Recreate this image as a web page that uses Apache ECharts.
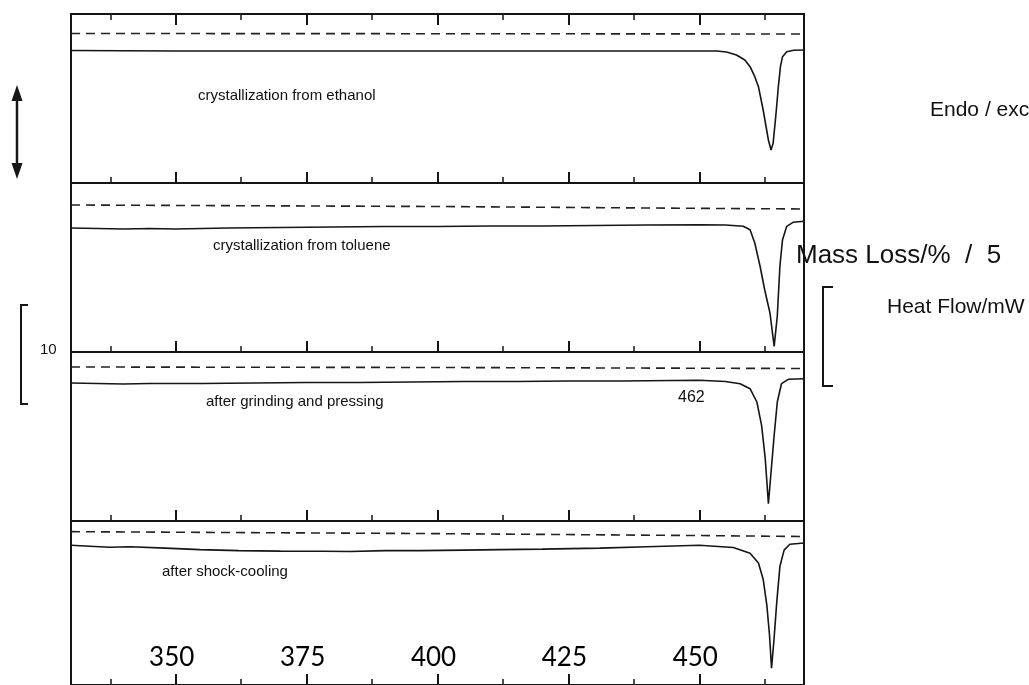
<!DOCTYPE html>
<html>
<head>
	<meta http-equiv="Content-Type" content="text/html;charset=utf-8" />
	<title>DSC / TG</title>
	<script src="https://cdn.jsdelivr.net/npm/echarts@6/dist/echarts.min.js"></script>
	<style>
		body { margin: 0; background: #fff; }
		#grafico { width: 1029px; height: 685px; }
	</style>
</head>
<body>
	<div id="grafico"></div>
	<script>

		// eixo de temperatura
		var tMin = 330, tMax = 470;
		var majorTicks = [350, 375, 400, 425, 450];
		var minorTicks = [337.5, 362.5, 387.5, 412.5, 437.5, 462.5];

		var amostras = ['crystallization from ethanol', 'crystallization from toluene', 'after grinding and pressing', 'after shock-cooling'];

		// DSC (heat flow, mW, relativo ao topo de cada painel)
		var dscEthanol = [
			[330, -3.65], [350, -3.7], [400, -3.7], [440, -3.7], [453.3, -3.7], [455.2, -3.8], [457.1, -4.1],
			[458.7, -4.6], [459.7, -5.27], [460.6, -6.27], [461.3, -7.27], [462.2, -9.6], [463.2, -12.6],
			[463.7, -13.6], [464.1, -12.93], [464.6, -10.27], [465.1, -7.27], [465.5, -5.27], [465.9, -4.27],
			[466.7, -3.77], [468.0, -3.63], [470, -3.6]
		];
		var dscToluene = [
			[330, -4.5], [335, -4.55], [340, -4.6], [345, -4.55], [350, -4.6], [355, -4.55], [360, -4.5],
			[370, -4.45], [380, -4.4], [390, -4.35], [400, -4.35], [410, -4.3], [420, -4.3], [430, -4.25],
			[440, -4.2], [450, -4.17], [455, -4.2], [458.4, -4.33], [459.7, -4.67], [460.6, -6.0], [461.6, -8.3],
			[462.5, -10.7], [463.5, -13.0], [464.3, -16.33], [464.9, -13.3], [465.4, -8.3], [465.9, -5.67],
			[466.7, -4.33], [467.9, -3.93], [470, -3.83]
		];
		var dscGrinding = [
			[330, -3.1], [335, -3.15], [340, -3.2], [345, -3.15], [355, -3.15], [365, -3.1], [375, -3.05],
			[385, -3.05], [395, -3.0], [405, -2.95], [415, -2.95], [425, -2.9], [435, -2.9], [445, -2.85],
			[450, -2.83], [455, -2.95], [457.8, -3.17], [459.7, -3.67], [461.0, -5.0], [461.9, -7.33],
			[462.6, -10.67], [463.2, -15.17], [463.6, -12.67], [464.3, -8.33], [464.9, -5.0], [465.7, -3.17],
			[467.0, -2.73], [470, -2.67]
		];
		var dscShock = [
			[330, -2.5], [333.6, -2.6], [337.4, -2.7], [341.3, -2.65], [348, -2.8], [354.6, -2.95], [362, -3.05],
			[370, -3.1], [378, -3.12], [383.3, -3.15], [390, -3.05], [396.7, -3.05], [405, -3.0], [412, -2.95],
			[420, -2.9], [431, -2.8], [440, -2.65], [450, -2.5], [456.5, -2.73], [459.7, -3.33], [461.3, -4.33],
			[462.2, -6.0], [462.9, -8.67], [463.4, -11.67], [463.8, -15.17], [464.3, -12.0], [464.8, -8.33],
			[465.4, -4.67], [466.2, -3.0], [467.3, -2.4], [470, -2.27]
		];

		// TG (perda de massa, tracejado)
		var tgEthanol = [[330, -1.95], [400, -1.97], [470, -2.0]];
		var tgToluene = [[330, -2.2], [400, -2.35], [440, -2.5], [470, -2.6]];
		var tgGrinding = [[330, -1.5], [400, -1.55], [470, -1.65]];
		var tgShock = [[330, -1.1], [400, -1.3], [450, -1.5], [470, -1.6]];

		var dscSeries = [dscEthanol, dscToluene, dscGrinding, dscShock];
		var tgSeries = [tgEthanol, tgToluene, tgGrinding, tgShock];

		var preto = '#151515';
		var topo = 14, alturaPainel = 169;

		var grids = [], xAxes = [], yAxes = [], series = [];

		function eixoX(grid, posicao, valores, comprimento, largura, rotulos) {
			xAxes.push({
				gridIndex: grid, type: 'value', min: tMin, max: tMax, position: posicao,
				axisLine: { show: false, onZero: false }, splitLine: { show: false },
				axisTick: { show: true, inside: true, length: comprimento, customValues: valores, lineStyle: { color: preto, width: largura } },
				axisLabel: rotulos || { show: false }
			});
			return xAxes.length - 1;
		}

		amostras.forEach(function (nome, i) {
			grids.push({ left: 71, width: 733, top: topo + alturaPainel * i, height: alturaPainel, show: true, borderColor: preto, borderWidth: 2, backgroundColor: 'transparent' });
			yAxes.push({ gridIndex: i, type: 'value', min: -16.9, max: 0, show: false });

			var rotulos = i === 3 ? {
				show: true, inside: true, customValues: majorTicks, margin: 14, padding: [0, 8, 0, 0],
				fontFamily: 'Lato', fontSize: 26, color: '#000'
			} : null;
			var xi = eixoX(i, 'bottom', majorTicks, 11, 2, rotulos);
			eixoX(i, 'bottom', minorTicks, 6, 1.5);
			if (i === 0) {
				eixoX(i, 'top', majorTicks, 11, 2);
				eixoX(i, 'top', minorTicks, 6, 1.5);
			}

			series.push({
				name: nome + ' TG', type: 'line', xAxisIndex: xi, yAxisIndex: i, data: tgSeries[i],
				showSymbol: false, silent: true, lineStyle: { color: '#222', width: 1.6, type: [9, 6] }
			});
			series.push({
				name: nome + ' DSC', type: 'line', xAxisIndex: xi, yAxisIndex: i, data: dscSeries[i],
				showSymbol: false, silent: true, lineStyle: { color: preto, width: 1.6 }
			});
		});

		function texto(t, x, y, tam) {
			return { type: 'text', x: x, y: y, style: { text: t, font: tam + 'px "Liberation Sans", Arial, sans-serif', fill: '#111', verticalAlign: 'middle' } };
		}

		var anotacoes = [
			texto(amostras[0], 198, 96, 15),
			texto(amostras[1], 213, 246, 15),
			texto(amostras[2], 206, 402, 15),
			texto(amostras[3], 162, 572, 15),
			texto('462', 678, 398, 16),
			texto('Endo / exc', 930, 110, 21),
			texto('Mass Loss/%  /  5', 796, 256, 26),
			texto('Heat Flow/mW', 887, 307, 21),
			texto('10', 40, 350, 15),
			// seta dupla
			{ type: 'line', shape: { x1: 17, y1: 95, x2: 17, y2: 170 }, style: { stroke: preto, lineWidth: 2.5 } },
			{ type: 'polygon', shape: { points: [[17, 85], [11.5, 101], [22.5, 101]] }, style: { fill: preto } },
			{ type: 'polygon', shape: { points: [[17, 179], [11.5, 163], [22.5, 163]] }, style: { fill: preto } },
			// colchetes de escala
			{ type: 'polyline', shape: { points: [[28, 305], [21, 305], [21, 404], [28, 404]] }, style: { stroke: preto, lineWidth: 2, fill: null } },
			{ type: 'polyline', shape: { points: [[833, 287], [823, 287], [823, 386], [833, 386]] }, style: { stroke: preto, lineWidth: 2, fill: null } }
		];

		var option = {
			animation: false,
			backgroundColor: '#fff',
			grid: grids,
			xAxis: xAxes,
			yAxis: yAxes,
			series: series,
			graphic: anotacoes
		};

		var chart = echarts.init(document.getElementById('grafico'));
		chart.setOption(option);

	</script>
</body>
</html>
